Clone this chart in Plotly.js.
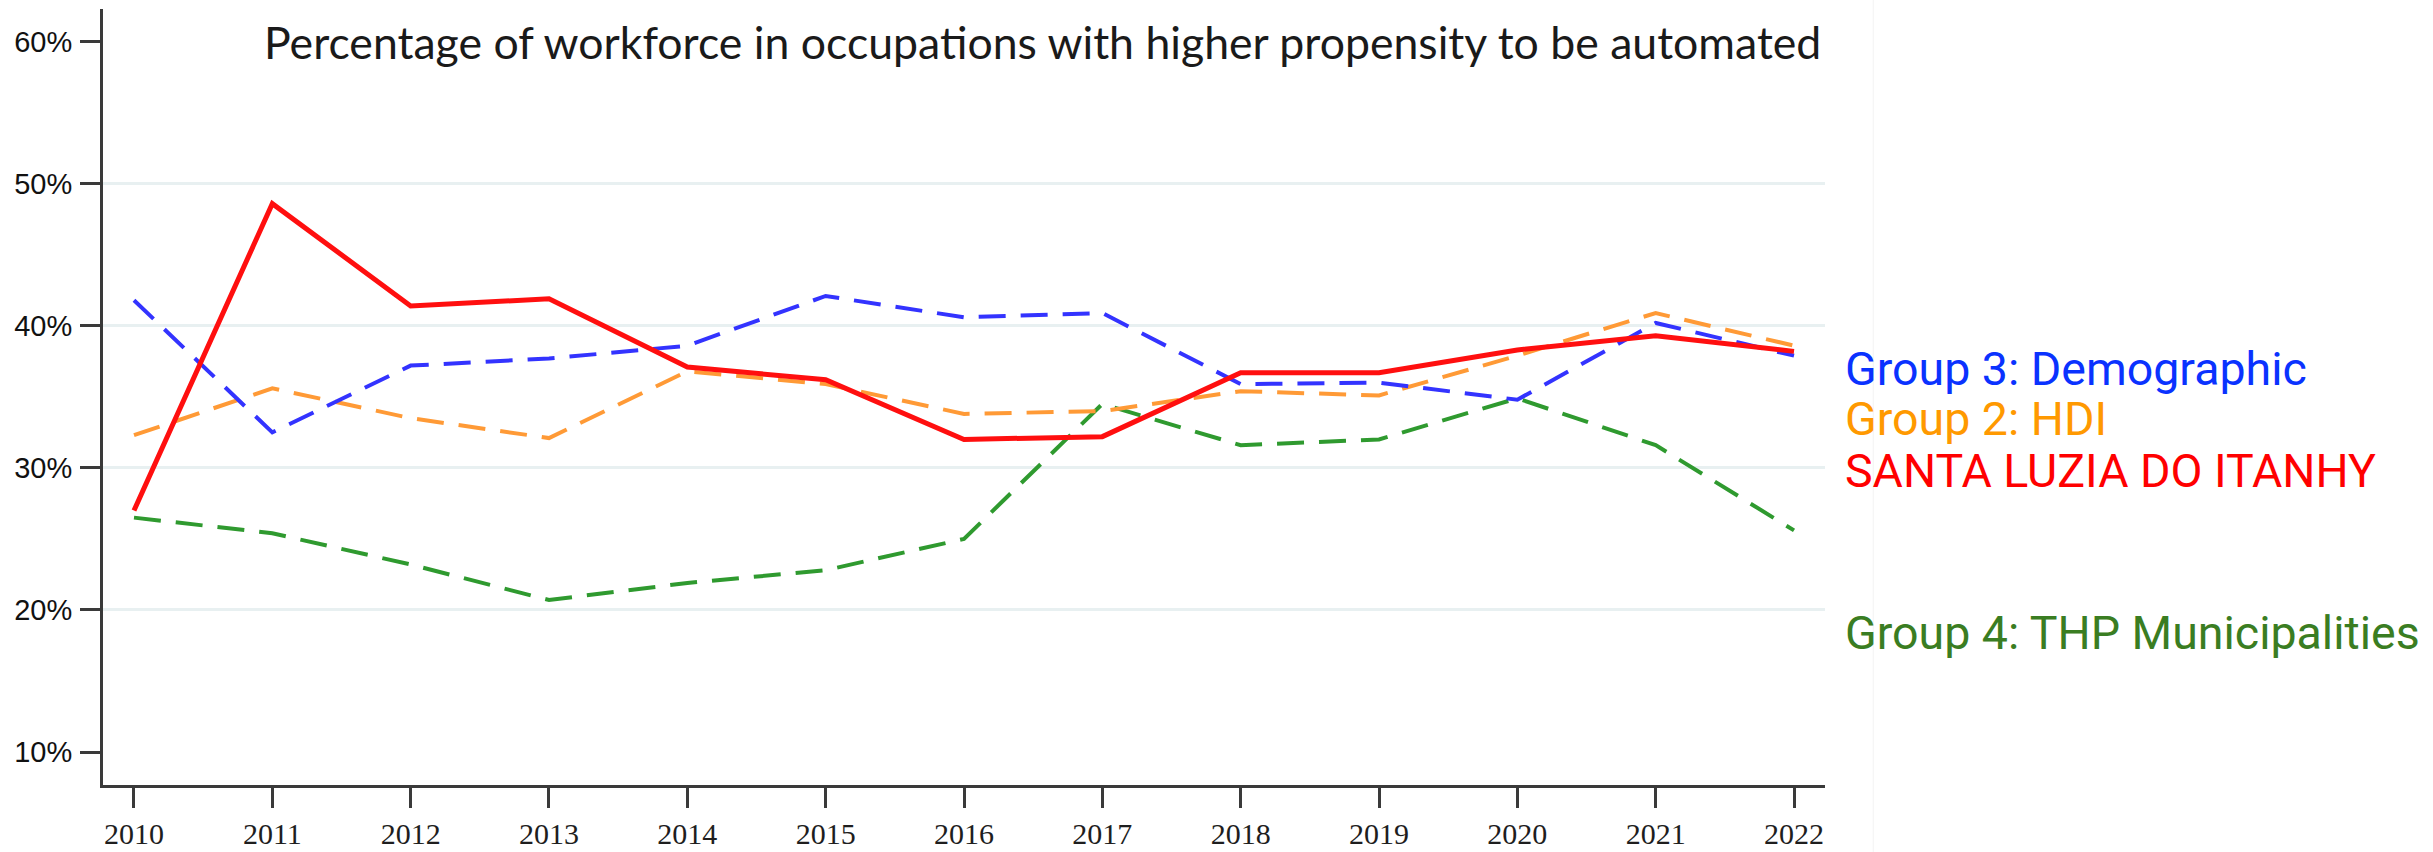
<!DOCTYPE html>
<html>
<head>
<meta charset="utf-8">
<script src="https://cdn.plot.ly/plotly-3.0.1.min.js"></script>
<style>
  html, body { margin: 0; padding: 0; background: #ffffff; }
  #chart { width: 2433px; height: 852px; }
</style>
</head>
<body>
<div id="chart"></div>
<script>
// ---- data ----
const years = [2010, 2011, 2012, 2013, 2014, 2015, 2016, 2017, 2018, 2019, 2020, 2021, 2022];
const santaLuzia = [27.0, 48.6, 41.4, 41.9, 37.1, 36.2, 32.0, 32.2, 36.7, 36.7, 38.3, 39.3, 38.2];
const group3Demographic = [41.8, 32.5, 37.2, 37.7, 38.6, 42.1, 40.6, 40.9, 35.9, 36.0, 34.8, 40.2, 37.9];
const group2HDI = [32.3, 35.6, 33.5, 32.1, 36.8, 35.9, 33.8, 34.0, 35.4, 35.1, 37.9, 40.9, 38.6];
const group4THP = [26.5, 25.4, 23.2, 20.7, 21.9, 22.8, 25.0, 34.5, 31.6, 32.0, 34.9, 31.6, 25.6];
const yTicks = [10, 20, 30, 40, 50, 60];
const yTickLabels = ["10%", "20%", "30%", "40%", "50%", "60%"];
const gridTicks = [20, 30, 40, 50];
const chartTitle = "Percentage of workforce in occupations with higher propensity to be automated";
const seriesLabels = ["Group 3: Demographic", "Group 2: HDI", "SANTA LUZIA DO ITANHY", "Group 4: THP Municipalities"];

// ---- traces ----
const dash = "27px,15px";
const traces = [
  { x: [years[0]], y: [null], yaxis: "y2", type: "scatter", mode: "lines",
    hoverinfo: "skip", showlegend: false },
  { x: years, y: group4THP, type: "scatter", mode: "lines", name: seriesLabels[3],
    line: { color: "#2f9a2f", width: 4, dash: dash } },
  { x: years, y: group2HDI, type: "scatter", mode: "lines", name: seriesLabels[1],
    line: { color: "#ff9a36", width: 4, dash: dash } },
  { x: years, y: group3Demographic, type: "scatter", mode: "lines", name: seriesLabels[0],
    line: { color: "#3333ff", width: 4, dash: dash } },
  { x: years, y: santaLuzia, type: "scatter", mode: "lines", name: seriesLabels[2],
    line: { color: "#ff0f0f", width: 5 } }
];

// label annotations on the right
const labelColors = ["#0a32ff", "#ff9900", "#ff0000", "#3a7d22"];
const labelY = [0.536, 0.4716, 0.4046, 0.1959];
const annotations = seriesLabels.map((t, i) => ({
  text: t, xref: "paper", yref: "paper", x: 1.0105, y: labelY[i],
  xanchor: "left", yanchor: "middle", showarrow: false,
  font: { family: "Roboto, Arial, sans-serif", size: 46.5, color: labelColors[i] }
}));
annotations.push({
  text: chartTitle, xref: "paper", yref: "paper", x: 0.9988, y: 0.958,
  xanchor: "right", yanchor: "middle", showarrow: false,
  font: { family: "Lato, 'Open Sans', sans-serif", size: 44.6, color: "#1a1a1a" }
});

const yRange = [7.68, 62.3];
const layout = {
  width: 2433, height: 852,
  margin: { l: 103, r: 608, t: 9, b: 67 },
  paper_bgcolor: "#ffffff", plot_bgcolor: "#ffffff",
  showlegend: false,
  xaxis: {
    range: [2009.776, 2022.224], tickvals: years, ticktext: years.map(String),
    showgrid: false, zeroline: false,
    showline: true, linecolor: "#3a3a3a", linewidth: 3,
    ticks: "outside", ticklen: 20, tickwidth: 3, tickcolor: "#3a3a3a",
    ticklabelstandoff: 0,
    tickfont: { family: "'Liberation Serif', 'Times New Roman', serif", size: 30, color: "#1e1e1e" }
  },
  yaxis: {
    range: yRange, tickvals: yTicks, ticktext: yTickLabels,
    showgrid: false, zeroline: false,
    showline: true, linecolor: "#3a3a3a", linewidth: 3,
    ticks: "outside", ticklen: 20, tickwidth: 3, tickcolor: "#3a3a3a",
    ticklabelstandoff: 2,
    tickfont: { family: "'Liberation Sans', Arial, sans-serif", size: 29, color: "#111111" }
  },
  yaxis2: {
    range: yRange, overlaying: "y", tickvals: gridTicks,
    showgrid: true, gridcolor: "#e8f0f1", gridwidth: 3,
    showticklabels: false, ticks: "", zeroline: false, showline: false
  },
  annotations: annotations,
  shapes: [
    { type: "line", xref: "paper", yref: "paper", x0: 1.028, x1: 1.028, y0: -0.09, y1: 1.02,
      line: { color: "#f3f3f3", width: 1 } }
  ]
};

Plotly.newPlot("chart", traces, layout, { displayModeBar: false, staticPlot: true });
</script>
</body>
</html>
